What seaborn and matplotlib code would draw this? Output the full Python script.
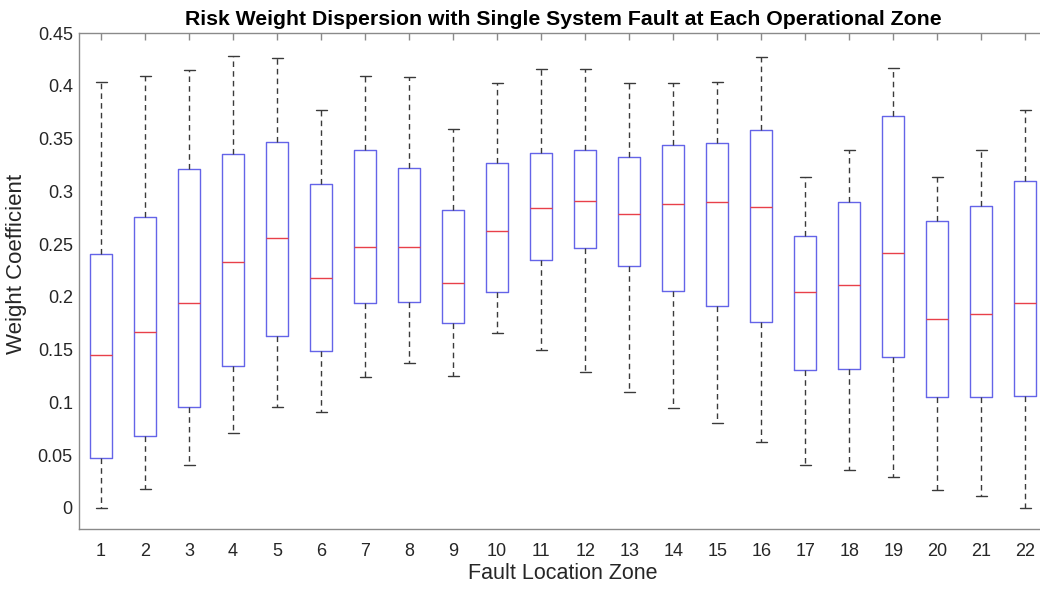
import numpy as np
import pandas as pd
import seaborn as sns
import matplotlib.pyplot as plt

# box statistics, one entry per zone
zones = [str(i) for i in range(1, 23)]
whisker_low = [0.000, 0.018, 0.041, 0.071, 0.096, 0.091, 0.124, 0.137, 0.125, 0.166, 0.150,
               0.129, 0.110, 0.095, 0.080, 0.062, 0.041, 0.036, 0.029, 0.017, 0.011, 0.000]
q1 = [0.047, 0.068, 0.096, 0.134, 0.163, 0.149, 0.194, 0.195, 0.175, 0.205, 0.235,
      0.246, 0.229, 0.206, 0.191, 0.176, 0.131, 0.132, 0.143, 0.105, 0.105, 0.106]
median = [0.145, 0.167, 0.194, 0.233, 0.256, 0.218, 0.247, 0.247, 0.213, 0.262, 0.284,
          0.291, 0.279, 0.288, 0.290, 0.285, 0.205, 0.211, 0.242, 0.179, 0.184, 0.194]
q3 = [0.241, 0.276, 0.321, 0.335, 0.347, 0.307, 0.339, 0.322, 0.282, 0.327, 0.336,
      0.339, 0.333, 0.344, 0.346, 0.358, 0.258, 0.290, 0.371, 0.272, 0.286, 0.310]
whisker_high = [0.404, 0.409, 0.415, 0.428, 0.426, 0.377, 0.409, 0.408, 0.359, 0.403, 0.416,
                0.416, 0.403, 0.403, 0.404, 0.427, 0.314, 0.339, 0.417, 0.314, 0.339, 0.377]
ytick_values = [0, 0.05, 0.1, 0.15, 0.2, 0.25, 0.3, 0.35, 0.4, 0.45]
ytick_labels = ["0", "0.05", "0.1", "0.15", "0.2", "0.25", "0.3", "0.35", "0.4", "0.45"]

# five points per zone -> quartiles land exactly on the read values
rows = []
for z, lo, a, m, b, hi in zip(zones, whisker_low, q1, median, q3, whisker_high):
    for v in (lo, a, m, b, hi):
        rows.append({"Zone": z, "Weight": v})
data = pd.DataFrame(rows)

sns.set_style("white")
plt.rcParams["font.family"] = ["Liberation Sans", "DejaVu Sans"]

box_blue = "#6464e8"
med_red = "#e8404a"
whisk = "#3a3a3a"

fig = plt.figure(figsize=(10.4, 5.91), dpi=100)
ax = fig.add_axes([0.076, 0.105, 0.931, 0.839])

sns.boxplot(data=data, x="Zone", y="Weight", order=zones, width=0.5, whis=(0, 100),
            fill=False, linewidth=1, color=box_blue, ax=ax,
            boxprops=dict(color=box_blue, linewidth=1),
            medianprops=dict(color=med_red, linewidth=1),
            whiskerprops=dict(color=whisk, linestyle=(0, (4, 3)), linewidth=1),
            capprops=dict(color=whisk, linewidth=1))

ax.set_xlim(-0.5, 21.5)
ax.set_ylim(-0.02, 0.45)
ax.set_yticks(ytick_values)
ax.set_yticklabels(ytick_labels)

for s in ax.spines.values():
    s.set_color("#8a8a8a")
    s.set_linewidth(1)
ax.tick_params(direction="in", top=True, right=True, length=5, width=1,
               color="#8a8a8a", labelcolor="#262626", labelsize=13)
ax.tick_params(axis="x", pad=10)
ax.tick_params(axis="y", pad=4.5)

ax.set_xlabel("Fault Location Zone", fontsize=15.5, color="#262626", labelpad=2)
ax.set_ylabel("Weight Coefficient", fontsize=16, color="#262626")
ax.yaxis.set_label_coords(-0.054, 0.535)
ax.set_title("Risk Weight Dispersion with Single System Fault at Each Operational Zone",
             fontsize=15.3, fontweight="bold", color="black", pad=6)

fig.savefig("out.png", dpi=100)
